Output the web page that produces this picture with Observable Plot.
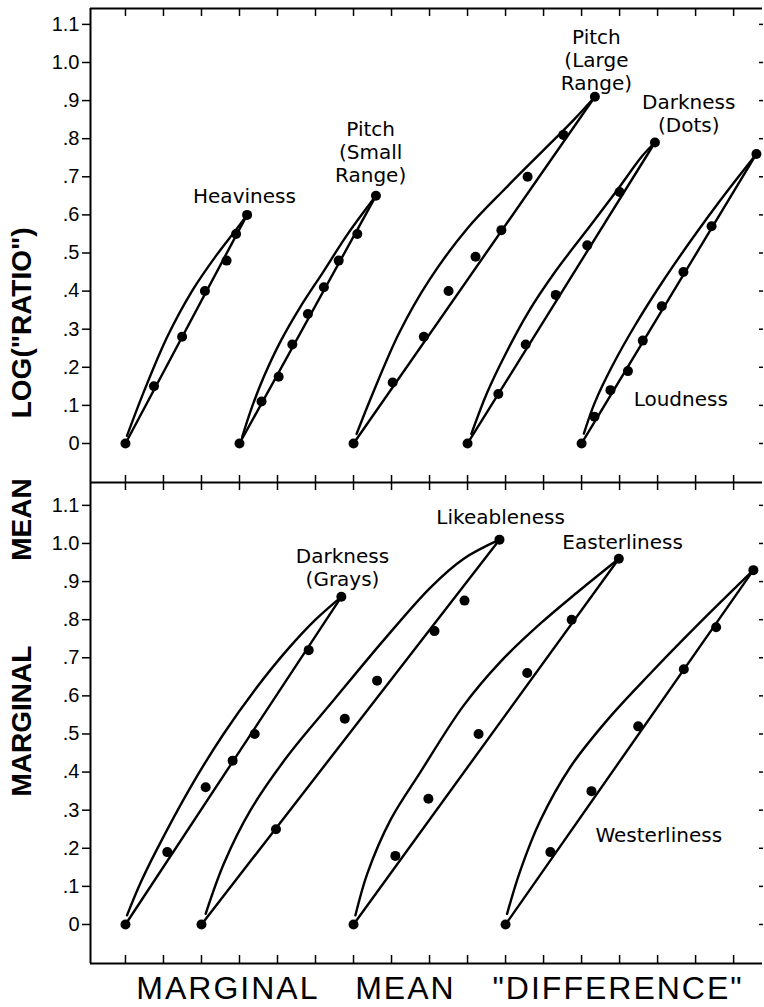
<!DOCTYPE html>
<html>
<head>
<meta charset="utf-8">
<script src="https://cdn.jsdelivr.net/npm/d3@7"></script>
<script src="https://cdn.jsdelivr.net/npm/@observablehq/plot@0.6"></script>
<style>
  html, body { margin: 0; padding: 0; background: #fff; }
  #wrap { position: relative; width: 764px; height: 1007px; overflow: hidden; background: #fff; }
  #top, #bottom { position: absolute; left: 0; }
  #top { top: 0; }
  #bottom { top: 482px; }
  #ytitle { position: absolute; left: 22px; top: 512px; transform: translate(-50%, -50%) rotate(-90deg);
    white-space: nowrap; font-family: "Liberation Sans", Arial, sans-serif; font-weight: bold; font-size: 28px; line-height: 28px; }
  #ytitle span { display: inline-block; }
  #xtitle { position: absolute; left: 0; width: 880px; top: 972px; text-align: center; white-space: nowrap;
    font-family: "Liberation Sans", Arial, sans-serif; font-size: 32px; line-height: 33px; word-spacing: 26px; letter-spacing: 2px; }
</style>
</head>
<body>
<div id="wrap">
  <div id="top"></div>
  <div id="bottom"></div>
  <div id="ytitle"><span>MARGINAL</span><span style="margin-left:85px">MEAN</span><span style="margin-left:60px">LOG("RATIO")</span></div>
  <div id="xtitle">MARGINAL MEAN "DIFFERENCE"</div>
</div>
<script>
// ---------- axis ticks ----------
const xTickValues = [0, 1, 2, 3, 4, 5, 6, 7, 8, 9, 10, 11, 12, 13, 14, 15, 16];
const yTickValues = [0, 0.1, 0.2, 0.3, 0.4, 0.5, 0.6, 0.7, 0.8, 0.9, 1.0, 1.1];
const yTickLabels = ["0", ".1", ".2", ".3", ".4", ".5", ".6", ".7", ".8", ".9", "1.0", "1.1"];

// ---------- top panel series (x in tick units of "difference", y = log "ratio") ----------
const heavinessX = [0, 0.75, 1.49, 2.09, 2.66, 2.91, 3.2];
const heavinessY = [0, 0.15, 0.28, 0.40, 0.48, 0.55, 0.60];
const heavinessArcX = [0.04, 0.5, 1.1, 1.75, 2.4, 2.9, 3.2];
const heavinessArcY = [0.02, 0.14, 0.28, 0.40, 0.495, 0.56, 0.60];

const pitchSmallX = [3, 3.58, 4.03, 4.39, 4.80, 5.22, 5.61, 6.10, 6.59];
const pitchSmallY = [0, 0.11, 0.175, 0.26, 0.34, 0.41, 0.48, 0.55, 0.65];
const pitchSmallArcX = [3.07, 3.33, 3.64, 4.08, 4.61, 5.2, 5.85, 6.59];
const pitchSmallArcY = [0.017, 0.096, 0.175, 0.268, 0.36, 0.45, 0.55, 0.65];

const pitchLargeX = [6, 7.03, 7.85, 8.50, 9.21, 9.89, 10.58, 11.52, 12.35];
const pitchLargeY = [0, 0.16, 0.28, 0.40, 0.49, 0.56, 0.70, 0.81, 0.91];
const pitchLargeArcX = [6.08, 6.5, 7.2, 8.0, 9.0, 10.0, 11.0, 11.8, 12.35];
const pitchLargeArcY = [0.025, 0.13, 0.29, 0.43, 0.565, 0.67, 0.77, 0.85, 0.91];

const darknessDotsX = [9, 9.81, 10.53, 11.32, 12.15, 13.0, 13.93];
const darknessDotsY = [0, 0.13, 0.26, 0.39, 0.52, 0.66, 0.79];
const darknessDotsArcX = [9.1, 9.5, 10.0, 10.6, 11.3, 12.1, 12.9, 13.6, 13.93];
const darknessDotsArcY = [0.025, 0.13, 0.235, 0.345, 0.45, 0.555, 0.66, 0.755, 0.79];

const loudnessX = [12, 12.34, 12.76, 13.22, 13.61, 14.11, 14.68, 15.42, 16.6];
const loudnessY = [0, 0.07, 0.14, 0.19, 0.27, 0.36, 0.45, 0.57, 0.76];
const loudnessArcX = [12.06, 12.35, 12.8, 13.4, 14.1, 14.9, 15.7, 16.6];
const loudnessArcY = [0.026, 0.108, 0.202, 0.309, 0.42, 0.536, 0.645, 0.76];

// ---------- bottom panel series ----------
const darknessGraysX = [0, 1.10, 2.11, 2.82, 3.40, 4.82, 5.68];
const darknessGraysY = [0, 0.19, 0.36, 0.43, 0.50, 0.72, 0.86];
const darknessGraysArcX = [0.04, 0.4, 0.79, 1.71, 2.58, 3.4, 4.25, 5.0, 5.68];
const darknessGraysArcY = [0.024, 0.11, 0.19, 0.36, 0.50, 0.615, 0.72, 0.80, 0.86];

const likeablenessX = [2, 3.96, 5.77, 6.62, 8.13, 8.92, 9.84];
const likeablenessY = [0, 0.25, 0.54, 0.64, 0.77, 0.85, 1.01];
const likeablenessArcX = [2.11, 2.59, 3.29, 4.25, 5.48, 6.80, 8.03, 8.90, 9.84];
const likeablenessArcY = [0.028, 0.16, 0.30, 0.44, 0.589, 0.747, 0.885, 0.96, 1.01];

const easterlinessX = [6, 7.10, 7.97, 9.29, 10.57, 11.74, 12.98];
const easterlinessY = [0, 0.18, 0.33, 0.50, 0.66, 0.80, 0.96];
const easterlinessArcX = [6.05, 6.36, 6.97, 7.76, 8.90, 9.87, 10.92, 11.89, 12.98];
const easterlinessArcY = [0.024, 0.133, 0.274, 0.40, 0.575, 0.69, 0.79, 0.872, 0.96];

const westerlinessX = [10, 11.18, 12.26, 13.49, 14.69, 15.54, 16.52];
const westerlinessY = [0, 0.19, 0.35, 0.52, 0.67, 0.78, 0.93];
const westerlinessArcX = [10.04, 10.39, 10.92, 11.71, 12.68, 13.82, 15.04, 16.52];
const westerlinessArcY = [0.028, 0.142, 0.274, 0.414, 0.537, 0.66, 0.785, 0.93];

// ---------- labels ----------
const labelText  = ["Heaviness", "Pitch\n(Small\nRange)", "Pitch\n(Large\nRange)", "Darkness\n(Dots)", "Loudness",
                    "Darkness\n(Grays)", "Likeableness", "Easterliness", "Westerliness"];
const labelX     = [3.13, 6.45, 12.39, 14.82, 14.61, 5.71, 9.87, 13.08, 14.03];
const labelY     = [0.651, 0.766, 1.008, 0.867, 0.118, 0.938, 1.071, 1.005, 0.236];
const labelPanel = ["top", "top", "top", "top", "top", "bottom", "bottom", "bottom", "bottom"];

// ---------- build tables ----------
const seriesList = [
  {name: "Heaviness", panel: "top", x: heavinessX, y: heavinessY, ax: heavinessArcX, ay: heavinessArcY},
  {name: "Pitch (Small Range)", panel: "top", x: pitchSmallX, y: pitchSmallY, ax: pitchSmallArcX, ay: pitchSmallArcY},
  {name: "Pitch (Large Range)", panel: "top", x: pitchLargeX, y: pitchLargeY, ax: pitchLargeArcX, ay: pitchLargeArcY},
  {name: "Darkness (Dots)", panel: "top", x: darknessDotsX, y: darknessDotsY, ax: darknessDotsArcX, ay: darknessDotsArcY},
  {name: "Loudness", panel: "top", x: loudnessX, y: loudnessY, ax: loudnessArcX, ay: loudnessArcY},
  {name: "Darkness (Grays)", panel: "bottom", x: darknessGraysX, y: darknessGraysY, ax: darknessGraysArcX, ay: darknessGraysArcY},
  {name: "Likeableness", panel: "bottom", x: likeablenessX, y: likeablenessY, ax: likeablenessArcX, ay: likeablenessArcY},
  {name: "Easterliness", panel: "bottom", x: easterlinessX, y: easterlinessY, ax: easterlinessArcX, ay: easterlinessArcY},
  {name: "Westerliness", panel: "bottom", x: westerlinessX, y: westerlinessY, ax: westerlinessArcX, ay: westerlinessArcY}
];

function tables(panel) {
  const ss = seriesList.filter(s => s.panel === panel);
  const dots = ss.flatMap(s => s.x.map((x, i) => ({name: s.name, x, y: s.y[i]})));
  const chords = ss.flatMap(s => [0, s.x.length - 1].map(i => ({name: s.name, x: s.x[i], y: s.y[i]})));
  const arcs = ss.flatMap(s => s.ax.map((x, i) => ({name: s.name, x, y: s.ay[i]})));
  const labels = labelText.map((t, i) => ({text: t, x: labelX[i], y: labelY[i], panel: labelPanel[i]}))
    .filter(d => d.panel === panel);
  return {dots, chords, arcs, labels};
}

const xDomain = [-0.92, 16.76];
const FONT = "'Liberation Sans', Arial, sans-serif";
const LABEL_FONT = "'DejaVu Sans', 'Liberation Sans', sans-serif";

function panelPlot(panel, {height, marginTop, marginBottom, yDomain, topTicks, bottomTicks}) {
  const t = tables(panel);
  const fmt = d => yTickLabels[yTickValues.indexOf(d)];
  return Plot.plot({
    width: 764, height, marginLeft: 90, marginRight: 2, marginTop, marginBottom,
    style: {overflow: "visible", background: "transparent", fontFamily: FONT, color: "black"},
    x: {domain: xDomain, label: null},
    y: {domain: yDomain, label: null},
    marks: [
      Plot.ruleX([xDomain[0]], {stroke: "black", strokeWidth: 2}),
      Plot.ruleY([yDomain[1]], {stroke: "black", strokeWidth: topTicks.line ? 2 : 0}),
      Plot.ruleY([yDomain[0]], {stroke: "black", strokeWidth: 2}),
      Plot.axisY({anchor: "left", ticks: yTickValues, tickFormat: fmt, tickSize: 8, tickPadding: 3,
                  fontSize: 20, label: null, strokeWidth: 1.5}),
      Plot.axisY({anchor: "right", ticks: yTickValues, tickFormat: () => "", tickSize: 4, dx: -4,
                  label: null, strokeWidth: 1.5}),
      Plot.axisX({anchor: "top", ticks: xTickValues, tickFormat: () => "", tickSize: topTicks.size,
                  dy: topTicks.size, label: null, strokeWidth: 1.5}),
      Plot.axisX({anchor: "bottom", ticks: xTickValues, tickFormat: () => "", tickSize: bottomTicks,
                  dy: -bottomTicks, label: null, strokeWidth: 1.5}),
      Plot.line(t.arcs, {x: "x", y: "y", z: "name", curve: "catmull-rom", stroke: "black", strokeWidth: 2.4}),
      Plot.line(t.chords, {x: "x", y: "y", z: "name", stroke: "black", strokeWidth: 2.4}),
      Plot.dot(t.dots, {x: "x", y: "y", r: 5, fill: "black", stroke: "none"}),
      Plot.text(t.labels, {x: "x", y: "y", text: "text", fontSize: 20, lineHeight: 1.15,
                           textAnchor: "middle", fill: "black", fontFamily: LABEL_FONT})
    ]
  });
}

document.getElementById("top").appendChild(panelPlot("top", {
  height: 482, marginTop: 8, marginBottom: 0,
  yDomain: [-0.1024, 1.1417], topTicks: {size: 7, line: true}, bottomTicks: 7
}));
document.getElementById("bottom").appendChild(panelPlot("bottom", {
  height: 525, marginTop: 0, marginBottom: 44,
  yDomain: [-0.1024, 1.160], topTicks: {size: 7, line: false}, bottomTicks: 8
}));
</script>
</body>
</html>
